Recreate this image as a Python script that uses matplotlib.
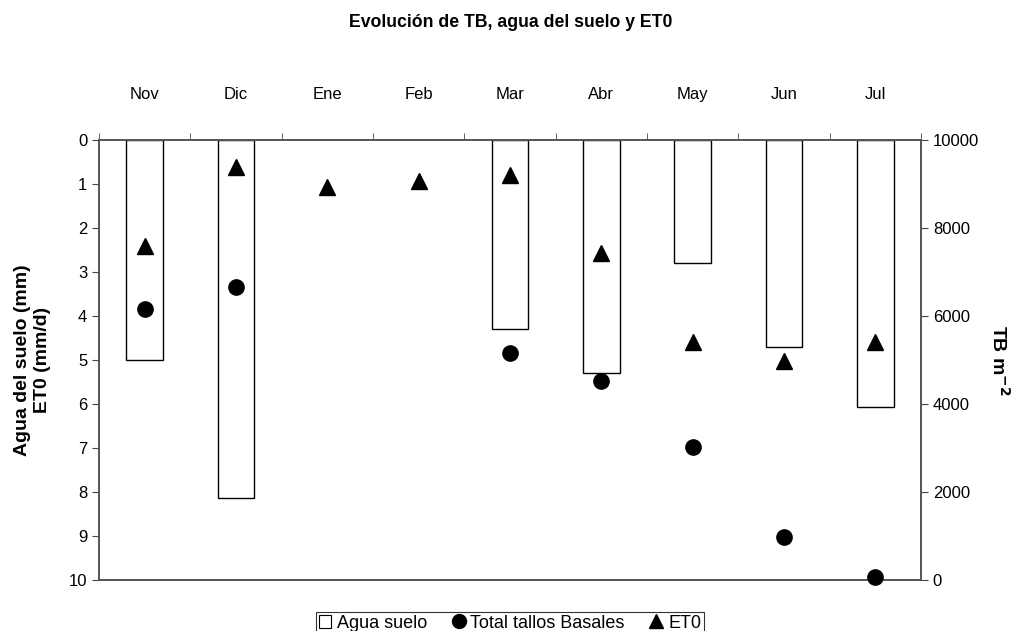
import numpy as np
import matplotlib
matplotlib.use("Agg")
import matplotlib.pyplot as plt
from matplotlib.lines import Line2D
from matplotlib.patches import Patch

plt.rcParams["font.family"] = ["Liberation Sans", "DejaVu Sans"]

# ── Data ─────────────────────────────────────
months = ["Nov", "Dic", "Ene", "Feb", "Mar", "Abr", "May", "Jun", "Jul"]
agua_suelo = [5.0, 8.13, np.nan, np.nan, 4.3, 5.3, 2.8, 4.7, 6.06]      # mm
et0 = [2.42, 0.61, 1.06, 0.94, 0.80, 2.56, 4.59, 5.02, 4.59]             # mm/d
tallos = [6170, 6650, np.nan, np.nan, 5150, 4515, 3030, 985, 75]         # TB m-2

x = np.arange(len(months))

fig = plt.figure(figsize=(10.22, 6.31), dpi=100)
ax = fig.add_axes([99 / 1022, 1 - 580 / 631, 822 / 1022, 440 / 631])
ax2 = ax.twinx()

# bars hang from the top (inverted left axis)
ax.bar(x, agua_suelo, width=0.4, color="white", edgecolor="black", linewidth=1.0, zorder=2)
ax.plot(x, et0, linestyle="none", marker="^", color="black", markersize=11, zorder=4,
        clip_on=False)
ax2.plot(x, tallos, linestyle="none", marker="o", color="black", markersize=11, zorder=4,
         clip_on=False)

ax.set_xlim(-0.5, len(months) - 0.5)
ax.set_ylim(10, 0)
ax.set_yticks(range(0, 11))
ax2.set_ylim(0, 10000)
ax2.set_yticks(range(0, 10001, 2000))

# month labels on top, tick marks at the category boundaries
ax.xaxis.tick_top()
ax.set_xticks(x)
ax.set_xticklabels(months, fontsize=12)
ax.tick_params(axis="x", which="major", length=0, pad=27)
ax.set_xticks(np.arange(-0.5, len(months)), minor=True)
ax.tick_params(axis="x", which="minor", length=5, direction="out", color="#444444", top=True)

ax.tick_params(axis="y", labelsize=12, length=5, color="#444444")
ax2.tick_params(axis="y", labelsize=12, length=5, color="#444444")

for a in (ax, ax2):
    for s in a.spines.values():
        s.set_color("#555555")
        s.set_linewidth(1.2)

ax.set_ylabel("Agua del suelo (mm)\nET0 (mm/d)", fontsize=14, fontweight="bold", labelpad=13)
ax2.set_ylabel("TB m$^{\\mathbf{-2}}$", fontsize=14, fontweight="bold", rotation=270, labelpad=22)

fig.suptitle("Evolución de TB, agua del suelo y ET0", fontsize=12.7, fontweight="bold", y=0.978)

handles = [
    Patch(facecolor="white", edgecolor="black", linewidth=0.8),
    Line2D([], [], linestyle="none", marker="o", color="black", markersize=10),
    Line2D([], [], linestyle="none", marker="^", color="black", markersize=10),
]
leg = fig.legend(handles, ["Agua suelo", "Total tallos Basales", "ET0"],
                 loc="upper center", bbox_to_anchor=(510 / 1022, 1 - 603 / 631),
                 ncol=3, frameon=True, fancybox=False, fontsize=13,
                 edgecolor="black", handlelength=0.7, handletextpad=0.3,
                 columnspacing=1.4, borderpad=0.15, handleheight=0.7)
leg.get_frame().set_linewidth(0.8)

fig.savefig("out.png", dpi=100)
